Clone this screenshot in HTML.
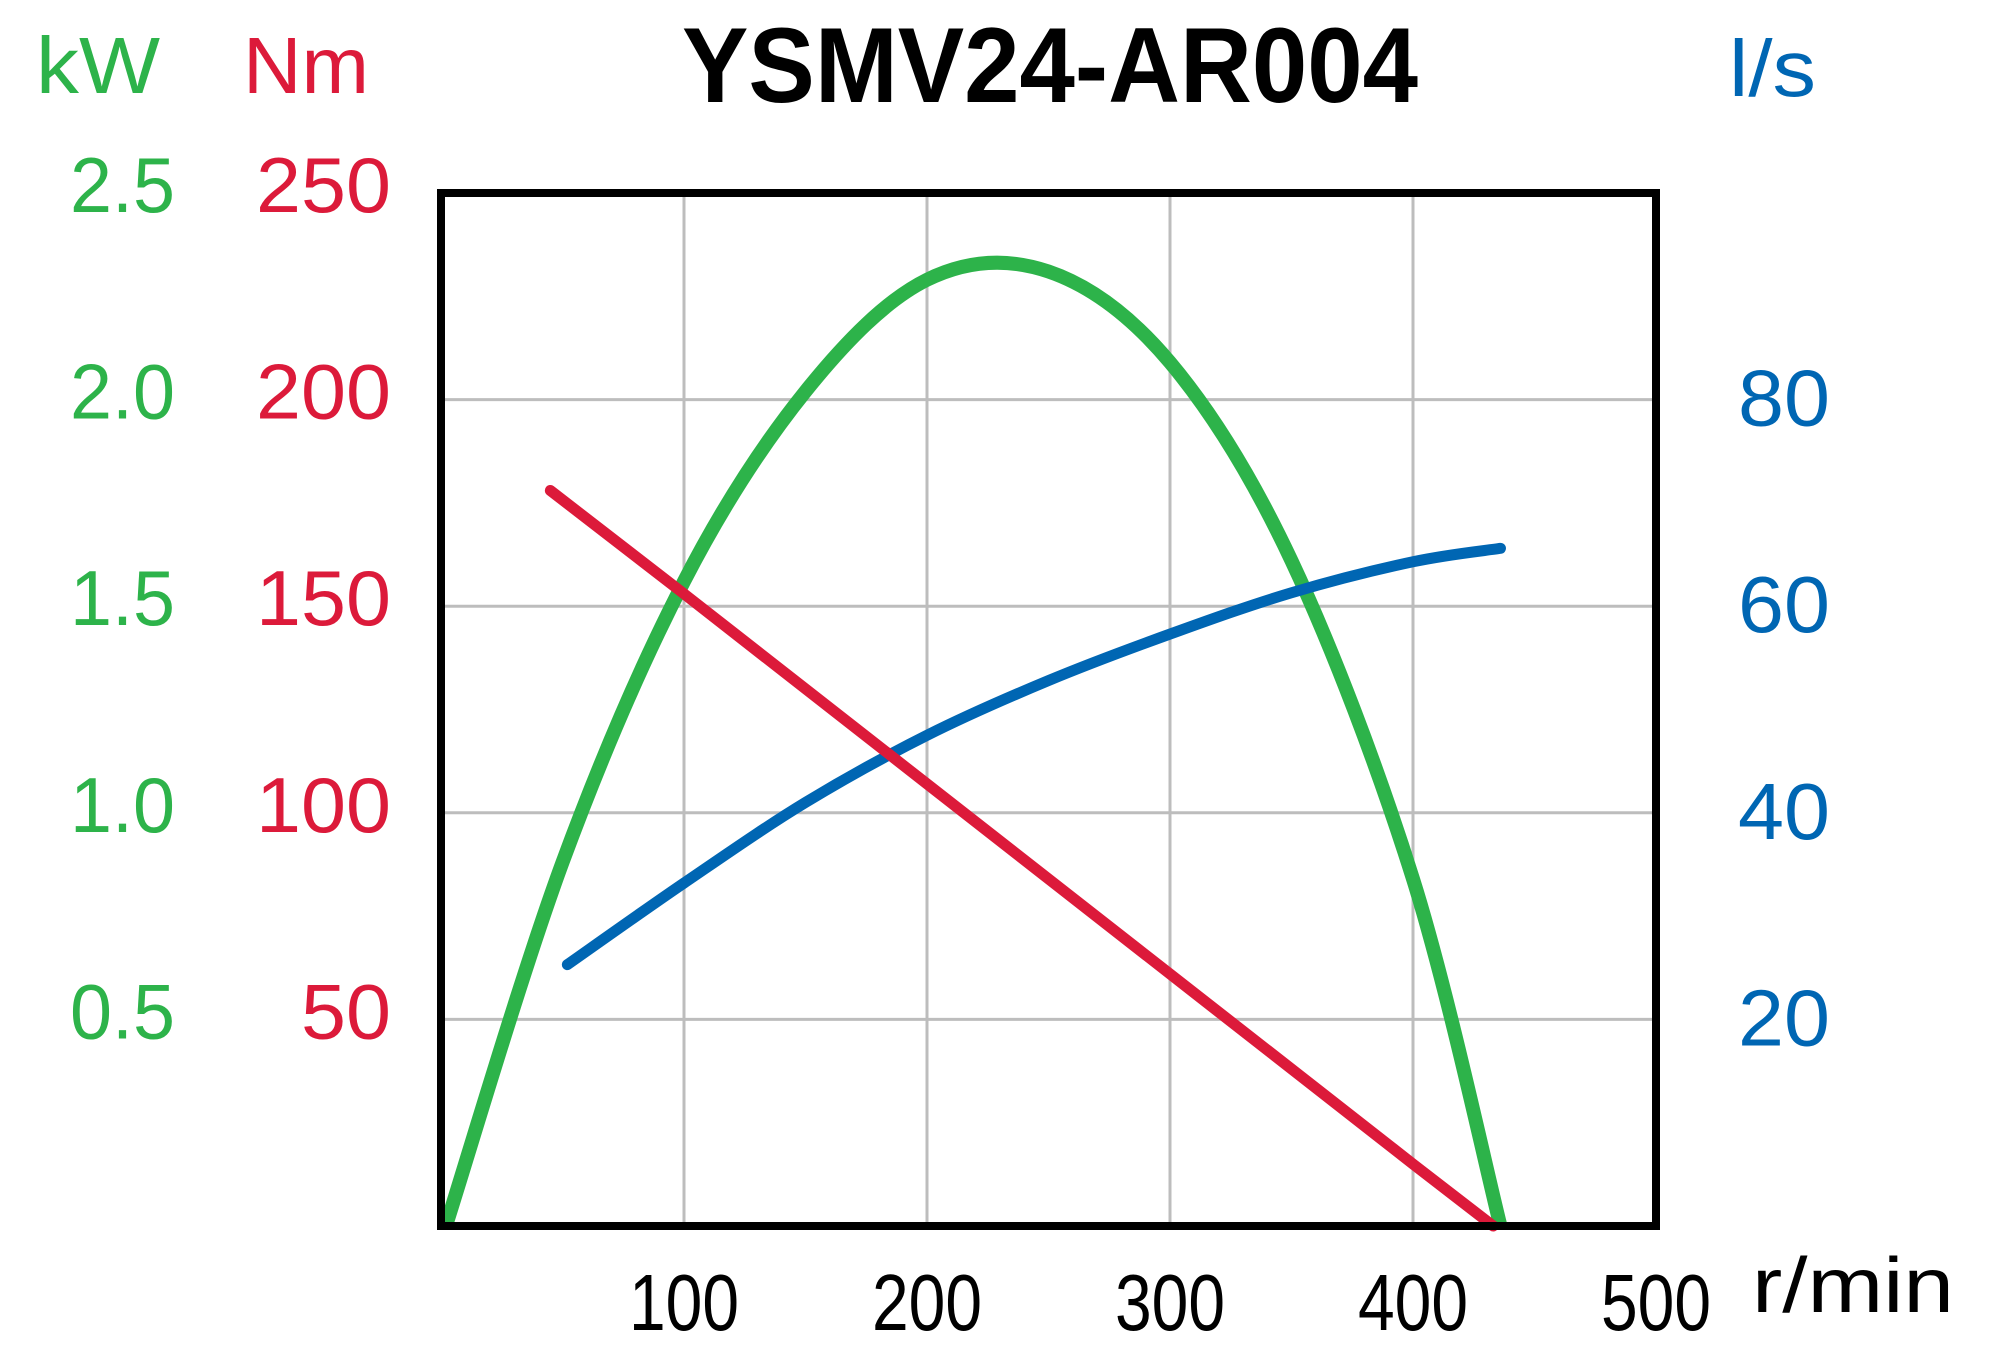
<!DOCTYPE html>
<html><head><meta charset="utf-8"><style>
html,body{margin:0;padding:0;background:#fff;}
svg{display:block;font-family:"Liberation Sans",sans-serif;}
</style></head><body>
<svg id="chart" width="1998" height="1345" viewBox="0 0 1998 1345" xmlns="http://www.w3.org/2000/svg">
<g id="grid"></g>
<g id="series"></g>
<rect x="441" y="193" width="1215" height="1033" fill="none" stroke="#000" stroke-width="8"/>
<text x="1050" y="102" text-anchor="middle" font-weight="bold" font-size="107" textLength="736" lengthAdjust="spacingAndGlyphs">YSMV24-AR004</text>
<text x="36" y="93" font-size="80" fill="#2db34a" textLength="124" lengthAdjust="spacingAndGlyphs">kW</text>
<text x="243" y="93" font-size="80" fill="#dc1a3a" textLength="126" lengthAdjust="spacingAndGlyphs">Nm</text>
<text x="1729" y="96" font-size="80" fill="#0066b3" textLength="87" lengthAdjust="spacingAndGlyphs">l/s</text>
<text x="1752" y="1312" font-size="78" fill="#000" textLength="202" lengthAdjust="spacingAndGlyphs">r/min</text>
<g id="labels"></g>
</svg>
<script>
const xTicks=[100,200,300,400,500];
const nmTicks=[50,100,150,200,250];
const kwTickLabels=["0.5","1.0","1.5","2.0","2.5"];
const flowTicks=[20,40,60,80];
const torqueRpm=[45,100,200,300,400,433];
const torqueNm=[178,153,107,61,15,0];
const powerRpm=[2,50,100,150,200,250,300,350,400,436];
const powerKw=[0,0.88,1.56,2.02,2.29,2.31,2.09,1.61,0.84,0];
const flowRpm=[52,100,150,200,250,300,350,400,436];
const flowLs=[25.3,33.2,41.0,47.5,52.8,57.3,61.3,64.3,65.6];

const X0=441,X1=1656,Y0=1226,Y1=193;
const sx=v=>X0+(X1-X0)*v/500;
const syNm=v=>Y0-(Y0-Y1)*v/250;
const syKw=v=>Y0-(Y0-Y1)*v/2.5;
const syLs=v=>Y0-(Y0-Y1)*v/100;
const NS="http://www.w3.org/2000/svg";
const grid=document.getElementById('grid'),series=document.getElementById('series'),labels=document.getElementById('labels');
function mk(tag,attrs,parent){const e=document.createElementNS(NS,tag);for(const k in attrs)e.setAttribute(k,attrs[k]);parent.appendChild(e);return e;}

xTicks.forEach(t=>{
  if(t<500){const l=mk('line',{x1:sx(t),x2:sx(t),y1:Y1,y2:Y0,stroke:'#bdbdbd','stroke-width':3},grid);
  
  }
  const tx=mk('text',{x:sx(t),y:1330,'text-anchor':'middle','font-size':80,textLength:110,lengthAdjust:'spacingAndGlyphs'},labels);
  tx.textContent=t;
  
  
});
nmTicks.forEach((t,i)=>{
  const y=syNm(t);
  if(t<250){const l=mk('line',{x1:X0,x2:X1,y1:y,y2:y,stroke:'#bdbdbd','stroke-width':3},grid);
  
  }
  const a=mk('text',{x:391,y:y+19,'text-anchor':'end','font-size':78,fill:'#dc1a3a',textLength:(String(t).length*45),lengthAdjust:'spacingAndGlyphs'},labels);
  a.textContent=t;
  
  
  const b=mk('text',{x:175,y:y+19,'text-anchor':'end','font-size':78,fill:'#2db34a',textLength:105,lengthAdjust:'spacingAndGlyphs'},labels);
  b.textContent=kwTickLabels[i];
  
  
});
flowTicks.forEach(t=>{
  const c=mk('text',{x:1738,y:syLs(t)+26,'font-size':80,fill:'#0066b3',textLength:92,lengthAdjust:'spacingAndGlyphs'},labels);
  c.textContent=t;
  
  
});
function path(xs,ys,fy){
  const p=xs.map((x,i)=>[sx(x),fy(ys[i])]);
  let d='M'+p[0][0]+','+p[0][1];
  for(let i=0;i<p.length-1;i++){const a=p[i-1]||p[i],b=p[i],c=p[i+1],e=p[i+2]||c;
    d+=' C'+(b[0]+(c[0]-a[0])/6)+','+(b[1]+(c[1]-a[1])/6)+' '+(c[0]-(e[0]-b[0])/6)+','+(c[1]-(e[1]-b[1])/6)+' '+c[0]+','+c[1];}
  return d;}
function poly(xs,ys,fy){return xs.map((x,i)=>(i?'L':'M')+sx(x)+','+fy(ys[i])).join(' ');}
const pw=mk('path',{d:path(powerRpm,powerKw,syKw),fill:'none',stroke:'#2db34a','stroke-width':14,'stroke-linecap':'butt'},series);


const fl=mk('path',{d:path(flowRpm,flowLs,syLs),fill:'none',stroke:'#0066b3','stroke-width':11,'stroke-linecap':'round'},series);


const tq=mk('path',{d:poly(torqueRpm,torqueNm,syNm),fill:'none',stroke:'#dc1a3a','stroke-width':11,'stroke-linecap':'round','stroke-linejoin':'round'},series);


</script>
</body></html>
